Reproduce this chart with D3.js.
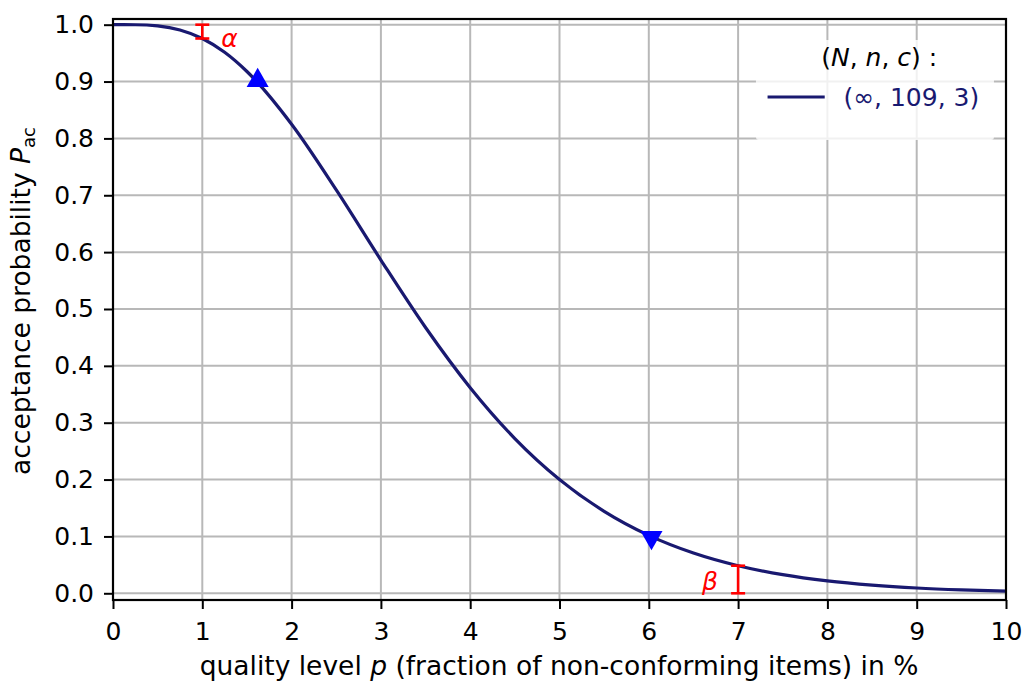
<!DOCTYPE html>
<html>
<head>
<meta charset="utf-8">
<title>OC curve</title>
<script src="https://cdn.jsdelivr.net/npm/d3@7"></script>
<style>
  body { margin: 0; background: #fff; }
  svg text { font-family: "DejaVu Sans", sans-serif; }
  .axis path, .axis line { stroke: #000; }
</style>
</head>
<body>
<script>
// quality level p in %, acceptance probability
var pVals = [0, 0.25, 0.5, 0.75, 1, 1.25, 1.5, 2, 2.5, 3, 3.5, 4, 4.5, 5, 5.5, 6, 6.5, 7, 7.5, 8, 8.5, 9, 9.5, 10];
var pacVals = [1, 0.9999, 0.9978, 0.9906, 0.9757, 0.9515, 0.9177, 0.8249, 0.7094, 0.5861, 0.4674, 0.3616, 0.2722, 0.2002, 0.1442, 0.1019, 0.0708, 0.0485, 0.0327, 0.0218, 0.0144, 0.0093, 0.0060, 0.0038];
var xTicks = [0, 1, 2, 3, 4, 5, 6, 7, 8, 9, 10];
var yTicks = [0, 0.1, 0.2, 0.3, 0.4, 0.5, 0.6, 0.7, 0.8, 0.9, 1.0];
// AQL / LQ points
var aql = [1.62, 0.9];
var lq = [6.03, 0.1];
// alpha and beta risks
var alphaBar = [1, 0.9757, 1.0];
var betaBar = [7, 0, 0.0485];

var W = 1023, H = 682;
var margin = {top: 19, right: 17, bottom: 82, left: 113};
var width = W - margin.left - margin.right,
    height = H - margin.top - margin.bottom;
var fs = 25, labfs = 26.5;

var svg = d3.select("body").append("svg")
    .attr("width", W)
    .attr("height", H);
var g = svg.append("g")
    .attr("transform", "translate(" + margin.left + "," + margin.top + ")");

var x = d3.scaleLinear().domain([0, 10]).range([0, width]);
var y = d3.scaleLinear().domain([-0.0118, 1.01]).range([height, 0]);

// grid
g.append("g").selectAll("line").data(xTicks).enter().append("line")
  .attr("x1", function(d) { return x(d); }).attr("x2", function(d) { return x(d); })
  .attr("y1", 0).attr("y2", height)
  .attr("stroke", "#b8b8b8").attr("stroke-width", 2);
g.append("g").selectAll("line").data(yTicks).enter().append("line")
  .attr("y1", function(d) { return y(d); }).attr("y2", function(d) { return y(d); })
  .attr("x1", 0).attr("x2", width)
  .attr("stroke", "#b8b8b8").attr("stroke-width", 2);

// curve
var line = d3.line()
  .x(function(d, i) { return x(pVals[i]); })
  .y(function(d) { return y(d); })
  .curve(d3.curveMonotoneX);
g.append("path")
  .datum(pacVals)
  .attr("fill", "none")
  .attr("stroke", "#191970")
  .attr("stroke-width", 3.2)
  .attr("d", line);

// markers
var tri = d3.symbol().type(d3.symbolTriangle).size(210);
g.append("path").attr("d", tri)
  .attr("transform", "translate(" + x(aql[0]) + "," + (y(aql[1]) - 1) + ")")
  .attr("fill", "#0000ff");
g.append("path").attr("d", tri)
  .attr("transform", "translate(" + x(lq[0]) + "," + (y(lq[1]) + 1) + ") rotate(180)")
  .attr("fill", "#0000ff");

// error bars
function errBar(b) {
  var eg = g.append("g").attr("stroke", "#ff0000").attr("stroke-width", 2.6);
  eg.append("line").attr("x1", x(b[0])).attr("x2", x(b[0])).attr("y1", y(b[1])).attr("y2", y(b[2]));
  [b[1], b[2]].forEach(function(v) {
    eg.append("line").attr("x1", x(b[0]) - 7).attr("x2", x(b[0]) + 7).attr("y1", y(v)).attr("y2", y(v));
  });
}
errBar(alphaBar);
errBar(betaBar);
g.append("text").attr("x", x(alphaBar[0]) + 19).attr("y", y(0.975) + 8)
  .attr("fill", "#ff0000").attr("font-size", fs).attr("font-style", "italic").text("α");
g.append("text").attr("x", x(betaBar[0]) - 36).attr("y", y(0.01) + 2)
  .attr("fill", "#ff0000").attr("font-size", fs).attr("font-style", "italic").text("β");

// axes
var xAxis = g.append("g").attr("class", "axis")
  .attr("transform", "translate(0," + height + ")")
  .call(d3.axisBottom(x).tickValues(xTicks).tickSize(9).tickPadding(13).tickFormat(d3.format("d")));
var yAxis = g.append("g").attr("class", "axis")
  .call(d3.axisLeft(y).tickValues(yTicks).tickSize(9).tickPadding(10).tickFormat(d3.format(".1f")));
[xAxis, yAxis].forEach(function(a) {
  a.select(".domain").remove();
  a.selectAll("line").attr("stroke-width", 2);
  a.selectAll("text").attr("font-size", fs).attr("fill", "#000")
    .style("font-family", "DejaVu Sans, sans-serif");
});
// frame
g.append("rect").attr("x", 0).attr("y", 0).attr("width", width).attr("height", height)
  .attr("fill", "none").attr("stroke", "#000").attr("stroke-width", 2.2);

// legend
var lg = g.append("g");
lg.append("rect").attr("x", x(7.2)).attr("y", 21).attr("width", 238).attr("height", 100)
  .attr("fill", "#fff").attr("fill-opacity", 0.8).attr("rx", 3);
lg.append("text").attr("x", x(8.58)).attr("y", 47).attr("text-anchor", "middle")
  .attr("font-size", fs).attr("fill", "#000")
  .html('(<tspan font-style="italic">N</tspan>, <tspan font-style="italic">n</tspan>, <tspan font-style="italic">c</tspan>) :');
lg.append("line").attr("x1", x(7.33)).attr("x2", x(7.97)).attr("y1", 78).attr("y2", 78)
  .attr("stroke", "#191970").attr("stroke-width", 3.2);
lg.append("text").attr("x", x(8.18)).attr("y", 87)
  .attr("font-size", fs).attr("fill", "#191970").text("(∞, 109, 3)");

// axis labels
svg.append("text").attr("x", 559).attr("y", 675)
  .attr("text-anchor", "middle").attr("font-size", labfs).attr("fill", "#000")
  .html('quality level <tspan font-style="italic">p</tspan> (fraction of non-conforming items) in %');
svg.append("text")
  .attr("transform", "translate(30,301) rotate(-90)")
  .attr("text-anchor", "middle").attr("font-size", labfs).attr("fill", "#000")
  .html('acceptance probability <tspan font-style="italic">P</tspan><tspan font-size="18" dy="5">ac</tspan>');
</script>
</body>
</html>
